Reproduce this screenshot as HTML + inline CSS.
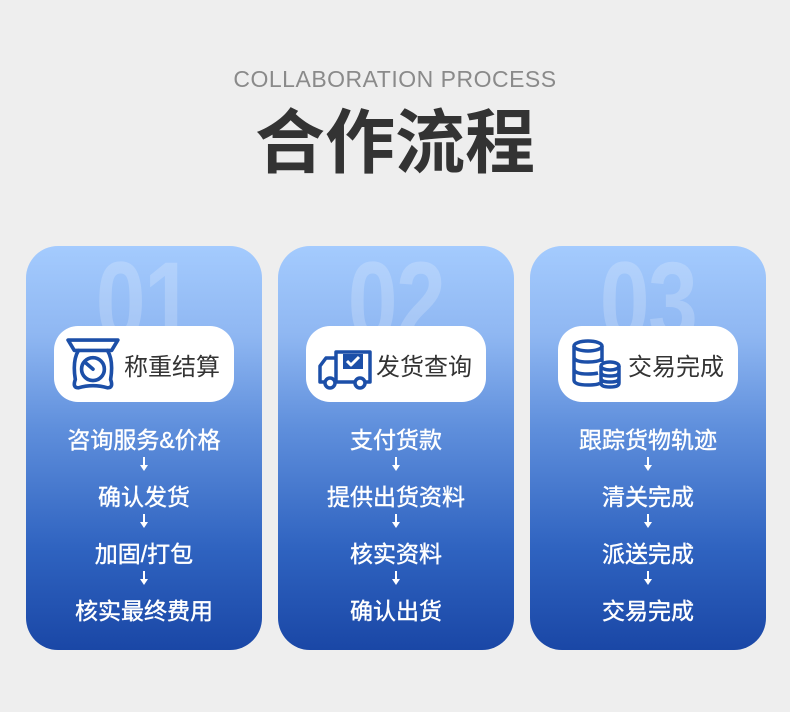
<!DOCTYPE html>
<html><head><meta charset="utf-8"><style>
*{margin:0;padding:0;box-sizing:border-box}
body{width:790px;height:712px;background:#eeeeee;position:relative;overflow:hidden;font-family:"Liberation Sans","Noto Sans CJK SC",sans-serif}
.en{position:absolute;top:66px;left:0;width:790px;text-align:center;font-size:23px;color:#8a8a8a;letter-spacing:0.5px}
.cn{position:absolute;top:106px;left:0;width:790px;text-align:center;font-size:70px;line-height:74px;font-weight:bold;color:#333}
.card{position:absolute;top:246px;width:236px;height:404px;border-radius:32px;background:linear-gradient(#a4cbfe 0%,#8fb7f2 22%,#5f8fdc 45%,#2f63c0 75%,#1a47a6 100%);overflow:hidden}
.num{position:absolute;left:0;width:236px;text-align:center;font-size:112px;font-weight:bold;color:rgba(255,255,255,0.2);line-height:1;top:0px;letter-spacing:-2px;transform:scaleX(0.8)}
.pill{position:absolute;left:28px;top:80px;width:180px;height:76px;background:#fff;border-radius:24px}
.pill svg{position:absolute;left:12px;top:12px}
.pill span{position:absolute;left:70px;top:21px;font-size:24px;color:#333}
.steps{position:absolute;top:179px;left:0;width:236px;text-align:center;color:#fff;font-size:23px;-webkit-text-stroke:0.4px #fff}
.steps div{height:57px;line-height:30px}
.ar{position:relative;height:20px;margin-top:0px;-webkit-text-stroke:0}
.ar:before{content:"";position:absolute;left:117px;top:2px;width:2px;height:9px;background:#fff}
.ar:after{content:"";position:absolute;left:114px;top:10px;border-left:4px solid transparent;border-right:4px solid transparent;border-top:6px solid #fff}
</style></head><body>
<div class="en">COLLABORATION PROCESS</div>
<div class="cn">合作流程</div>

<div class="card" style="left:26px">
<div class="num">01</div>
<div class="pill">
<svg width="56" height="54" viewBox="0 0 54 52" fill="none" stroke="#1c4fa8" stroke-width="3.5" stroke-linejoin="round" stroke-linecap="round">
<path d="M2 2H50L44 12H8Z"/><path d="M12 12Q6 22 9 40Q6 48 12 48Q26 44 40 48Q46 48 43 40Q46 22 40 12"/>
<circle cx="26" cy="30" r="11"/><path d="M26 30L19 24"/></svg>
<span>称重结算</span></div>
<div class="steps"><div>咨询服务&amp;价格<div class="ar"></div></div><div>确认发货<div class="ar"></div></div><div>加固/打包<div class="ar"></div></div><div>核实最终费用</div></div>
</div>

<div class="card" style="left:278px">
<div class="num">02</div>
<div class="pill">
<svg width="56" height="52" viewBox="0 0 56 52" fill="none" stroke="#1c4fa8" stroke-width="3.5" stroke-linejoin="round">
<path d="M18 14H52V44H18Z"/><path d="M18 20H8L2 28V44H18"/>
<circle cx="12" cy="45" r="5" fill="#fff"/><circle cx="42" cy="45" r="5" fill="#fff"/>
<rect x="25" y="16" width="20" height="15" fill="#1c4fa8" stroke="none"/><path d="M29 23L33 27L41 19" stroke="#fff" stroke-width="3"/></svg>
<span>发货查询</span></div>
<div class="steps"><div>支付货款<div class="ar"></div></div><div>提供出货资料<div class="ar"></div></div><div>核实资料<div class="ar"></div></div><div>确认出货</div></div>
</div>

<div class="card" style="left:530px">
<div class="num">03</div>
<div class="pill">
<svg width="54" height="52" viewBox="0 0 54 52" fill="none" stroke="#1c4fa8" stroke-width="3.5">
<ellipse cx="18" cy="8" rx="14" ry="5"/><path d="M4 8V42Q4 47 18 47Q28 47 30 45M32 8V24M4 19Q4 24 18 24Q28 24 32 21M4 31Q4 36 18 36Q24 36 28 35"/>
<ellipse cx="40" cy="28" rx="9" ry="4"/><path d="M31 28V45Q31 49 40 49Q49 49 49 45V28M31 34Q31 38 40 38Q49 38 49 34M31 40Q31 44 40 44Q49 44 49 40"/></svg>
<span>交易完成</span></div>
<div class="steps"><div>跟踪货物轨迹<div class="ar"></div></div><div>清关完成<div class="ar"></div></div><div>派送完成<div class="ar"></div></div><div>交易完成</div></div>
</div>
</body></html>
